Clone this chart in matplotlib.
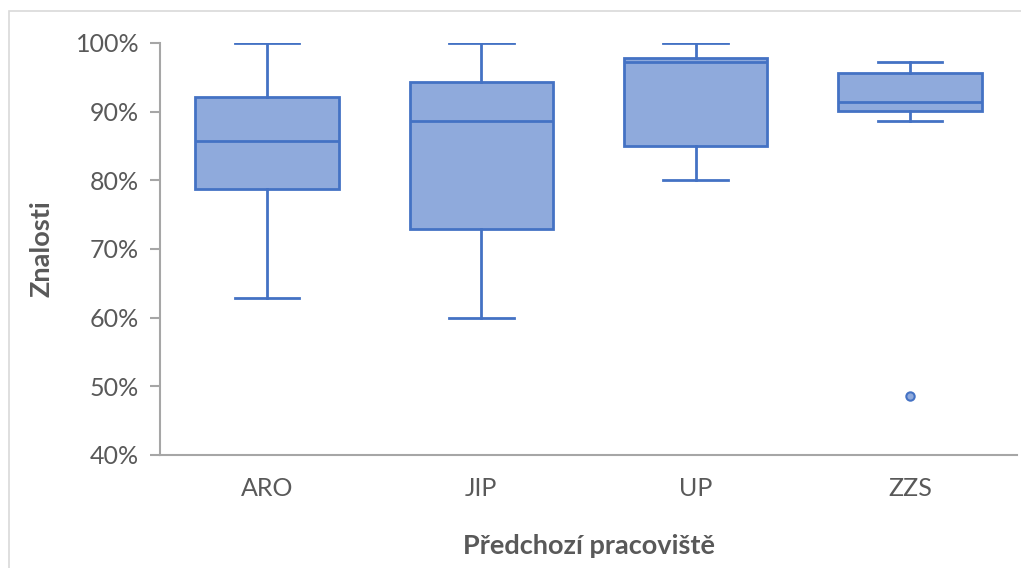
import matplotlib
matplotlib.use("Agg")
import matplotlib.pyplot as plt
from matplotlib.patches import Rectangle
from matplotlib.ticker import FuncFormatter

categories = ["ARO", "JIP", "UP", "ZZS"]
whislo = [62.9, 60.0, 80.0, 88.6]
q1 = [78.7, 72.9, 85.0, 90.1]
med = [85.7, 88.6, 97.2, 91.4]
q3 = [92.1, 94.3, 97.8, 95.6]
whishi = [100.0, 100.0, 100.0, 97.2]
fliers = [[], [], [], [48.6]]

plt.rcParams['font.family'] = ['Lato', 'DejaVu Sans']
W, H = 1021, 568
fig = plt.figure(figsize=(W / 100, H / 100), dpi=100)
ax = fig.add_axes([160 / W, 1 - 455 / H, (1017 - 160) / W, (455 - 43) / H])

fig.patches.append(Rectangle((9 / W, -0.1), 1.2, 1 - 11 / H + 0.1, transform=fig.transFigure,
                             fill=False, edgecolor="#D9D9D9", linewidth=1.2))

stats = []
for i, c in enumerate(categories):
    stats.append(dict(label=c, whislo=whislo[i], q1=q1[i], med=med[i], q3=q3[i],
                      whishi=whishi[i], fliers=fliers[i]))

edge = "#4472C4"
fill = "#8FAADC"
ax.bxp(stats, positions=range(len(categories)), widths=0.67, capwidths=0.3,
       patch_artist=True, showfliers=True,
       boxprops=dict(facecolor=fill, edgecolor=edge, linewidth=2),
       medianprops=dict(color=edge, linewidth=2),
       whiskerprops=dict(color=edge, linewidth=2),
       capprops=dict(color=edge, linewidth=2),
       flierprops=dict(marker="o", markerfacecolor=fill, markeredgecolor=edge,
                       markersize=6, markeredgewidth=1.5))

ax.set_xlim(-0.5, len(categories) - 0.5)
ax.set_ylim(40, 100)
ax.set_yticks(range(40, 101, 10))
ax.yaxis.set_major_formatter(FuncFormatter(lambda v, p: f"{v:.0f}%"))

for s in ["top", "right"]:
    ax.spines[s].set_visible(False)
for s in ["left", "bottom"]:
    ax.spines[s].set_color("#A6A6A6")
    ax.spines[s].set_linewidth(1.5)
ax.tick_params(axis="y", length=7, width=1.5, color="#A6A6A6", labelcolor="#595959",
               labelsize=18, pad=8)
ax.tick_params(axis="x", length=0, labelcolor="#595959", labelsize=18, pad=16)

ax.set_xlabel("Předchozí pracoviště", fontsize=19.5, fontweight="bold", color="#595959", labelpad=24)
ax.set_ylabel("Znalosti", fontsize=19.5, fontweight="bold", color="#595959", labelpad=16)

fig.savefig("out.png", dpi=100)
